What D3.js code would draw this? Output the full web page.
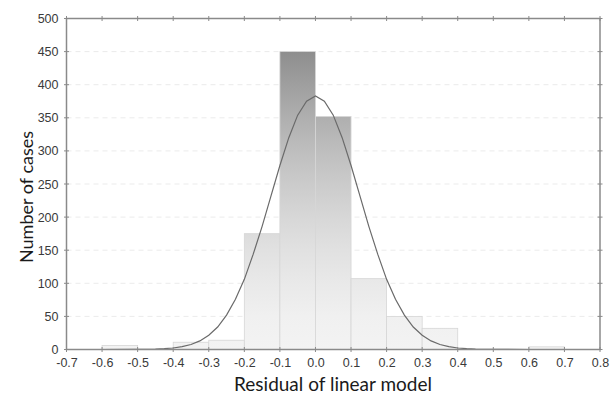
<!DOCTYPE html>
<html>
<head>
<meta charset="utf-8">
<script src="https://cdn.jsdelivr.net/npm/d3@7"></script>
<style>
  html, body { margin: 0; padding: 0; background: #fff; }
  svg { display: block; }
</style>
</head>
<body>
<svg id="chart" width="610" height="397"></svg>
<script>
// Histogram bins (lower edge, count)
const binStarts = [-0.7, -0.6, -0.5, -0.4, -0.3, -0.2, -0.1, 0.0, 0.1, 0.2, 0.3, 0.4, 0.5, 0.6, 0.7];
const binCounts = [0, 6, 0, 11, 14, 175, 450, 352, 107, 50, 32, 0, 0, 4, 0];
const binWidth = 0.1;

// Fitted normal curve
const curveX = [-0.7, -0.6, -0.5, -0.475, -0.45, -0.425, -0.4, -0.375, -0.35, -0.325, -0.3, -0.275, -0.25, -0.225, -0.2, -0.175, -0.15, -0.125, -0.1, -0.075, -0.05, -0.025, 0.0, 0.025, 0.05, 0.075, 0.1, 0.125, 0.15, 0.175, 0.2, 0.225, 0.25, 0.275, 0.3, 0.325, 0.35, 0.375, 0.4, 0.425, 0.45, 0.475, 0.5, 0.6, 0.7, 0.8];
const curveY = [0, 0, 0.1, 0.3, 0.6, 1.2, 2.3, 4.3, 7.6, 13, 21.5, 34, 52, 76, 106, 144, 186, 232, 278, 320, 354, 375, 383, 375, 354, 320, 278, 232, 186, 144, 106, 76, 52, 34, 21.5, 13, 7.6, 4.3, 2.3, 1.2, 0.6, 0.3, 0.1, 0, 0, 0];

// Tick labels
const xTicks = [-0.7, -0.6, -0.5, -0.4, -0.3, -0.2, -0.1, 0.0, 0.1, 0.2, 0.3, 0.4, 0.5, 0.6, 0.7, 0.8];
const xTickLabels = ["-0.7", "-0.6", "-0.5", "-0.4", "-0.3", "-0.2", "-0.1", "0.0", "0.1", "0.2", "0.3", "0.4", "0.5", "0.6", "0.7", "0.8"];
const yTicks = [0, 50, 100, 150, 200, 250, 300, 350, 400, 450, 500];
const gridValues = [50, 100, 150, 200, 250, 300, 350, 400, 450];
const xTitle = "Residual of linear model";
const yTitle = "Number of cases";

(function () {
const svg = d3.select("#chart");
const pL = 66.5, pR = 600, pT = 18.5, pB = 349.5;

const x = d3.scaleLinear().domain([-0.7, 0.8]).range([pL, pR]);
const y = d3.scaleLinear().domain([0, 500]).range([pB, pT]);

// gradient across the plot height
const defs = svg.append("defs");
const grad = defs.append("linearGradient")
  .attr("id", "barGrad")
  .attr("gradientUnits", "userSpaceOnUse")
  .attr("x1", 0).attr("x2", 0)
  .attr("y1", y(0)).attr("y2", y(450));
const stops = [
  [0, "#f3f3f3"], [50, "#f0f0f0"], [100, "#e9e9e9"], [150, "#e1e1e1"],
  [200, "#d7d7d7"], [250, "#cbcbcb"], [300, "#bebebe"], [350, "#afafaf"],
  [400, "#9f9f9f"], [450, "#8e8e8e"]
];
stops.forEach(s => grad.append("stop").attr("offset", s[0] / 450).attr("stop-color", s[1]));

// grid lines
svg.append("g").selectAll("line").data(gridValues).join("line")
  .attr("x1", pL).attr("x2", pR)
  .attr("y1", d => y(d)).attr("y2", d => y(d))
  .attr("stroke", "#ebebeb").attr("stroke-width", 1)
  .attr("stroke-dasharray", "5,4");

// bars
svg.append("g").selectAll("rect").data(binStarts.map((s, i) => ({ s, c: binCounts[i] })).filter(d => d.c > 0))
  .join("rect")
  .attr("x", d => x(d.s))
  .attr("width", d => x(d.s + binWidth) - x(d.s))
  .attr("y", d => y(d.c))
  .attr("height", d => y(0) - y(d.c))
  .attr("fill", "url(#barGrad)")
  .attr("stroke", "#d6d6d6")
  .attr("stroke-width", 0.8);

// normal curve
const line = d3.line().x(d => x(d[0])).y(d => y(d[1]));
svg.append("path")
  .datum(curveX.map((v, i) => [v, curveY[i]]))
  .attr("d", line)
  .attr("fill", "none")
  .attr("stroke", "#6a6a6a")
  .attr("stroke-width", 1.2);

// frame
svg.append("rect")
  .attr("x", pL).attr("y", pT)
  .attr("width", pR - pL).attr("height", pB - pT)
  .attr("fill", "none").attr("stroke", "#8a8a8a").attr("stroke-width", 1.5);

// axes
const fontTick = "'Liberation Sans', Arial, sans-serif";
const xAxis = d3.axisBottom(x).tickValues(xTicks).tickSize(0).tickPadding(9)
  .tickFormat((d, i) => xTickLabels[i]);
const gx = svg.append("g").attr("transform", `translate(0,${pB})`).call(xAxis);
gx.attr("font-family", fontTick).attr("font-size", 12.5);
gx.select(".domain").remove();
gx.selectAll("text").attr("fill", "#3a3a3a");

const yAxis = d3.axisLeft(y).tickValues(yTicks).tickSize(0).tickPadding(8);
const gy = svg.append("g").attr("transform", `translate(${pL},0)`).call(yAxis);
gy.attr("font-family", fontTick).attr("font-size", 12.5);
gy.select(".domain").remove();
gy.selectAll("text").attr("fill", "#3a3a3a");

// small tick marks on frame
const tickLen = 2.5;
svg.append("g").selectAll("line").data(xTicks).join("line")
  .attr("x1", d => x(d)).attr("x2", d => x(d))
  .attr("y1", pB - tickLen).attr("y2", pB + tickLen)
  .attr("stroke", "#8a8a8a").attr("stroke-width", 1);
svg.append("g").selectAll("line").data(xTicks).join("line")
  .attr("x1", d => x(d)).attr("x2", d => x(d))
  .attr("y1", pT - tickLen).attr("y2", pT + tickLen)
  .attr("stroke", "#8a8a8a").attr("stroke-width", 1);
svg.append("g").selectAll("line").data(yTicks).join("line")
  .attr("x1", pL - tickLen).attr("x2", pL + tickLen)
  .attr("y1", d => y(d)).attr("y2", d => y(d))
  .attr("stroke", "#8a8a8a").attr("stroke-width", 1);
svg.append("g").selectAll("line").data(yTicks).join("line")
  .attr("x1", pR - tickLen).attr("x2", pR + tickLen)
  .attr("y1", d => y(d)).attr("y2", d => y(d))
  .attr("stroke", "#8a8a8a").attr("stroke-width", 1);

// titles
svg.append("text")
  .attr("x", 333).attr("y", 391)
  .attr("text-anchor", "middle")
  .attr("font-family", "Lato, 'Open Sans', sans-serif")
  .attr("font-size", 19).attr("fill", "#1a1a1a")
  .text(xTitle);
svg.append("text")
  .attr("transform", `translate(33,${(pT + pB) / 2 + 13}) rotate(-90)`)
  .attr("text-anchor", "middle")
  .attr("font-family", "Lato, 'Open Sans', sans-serif")
  .attr("font-size", 18).attr("fill", "#1a1a1a")
  .text(yTitle);
})();
</script>
</body>
</html>
